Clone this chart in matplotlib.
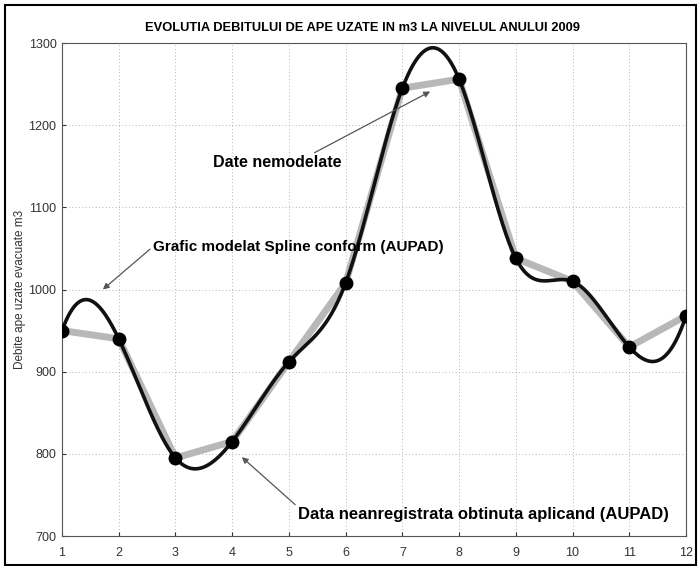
import numpy as np
import matplotlib
matplotlib.use("Agg")
import matplotlib.pyplot as plt
from matplotlib.patches import Rectangle

# Monthly wastewater flow, m3 (year 2009)
months = [1, 2, 3, 4, 5, 6, 7, 8, 9, 10, 11, 12]
flow = [950, 940, 795, 815, 912, 1008, 1245, 1256, 1038, 1010, 930, 968]
y_ticks = [700, 800, 900, 1000, 1100, 1200, 1300]

title = "EVOLUTIA DEBITULUI DE APE UZATE IN m3 LA NIVELUL ANULUI 2009"
ylabel = "Debite ape uzate evacuate m3"
note_raw = "Date nemodelate"
note_spline = "Grafic modelat Spline conform (AUPAD)"
note_missing = "Data neanregistrata obtinuta aplicand (AUPAD)"


def not_a_knot_spline(x, y, xs):
    """Cubic spline with not-a-knot end conditions, evaluated at xs."""
    x = np.asarray(x, float)
    y = np.asarray(y, float)
    n = len(x) - 1
    h = np.diff(x)
    A = np.zeros((4 * n, 4 * n))
    b = np.zeros(4 * n)
    r = 0
    for i in range(n):
        c = 4 * i
        A[r, c] = 1; b[r] = y[i]; r += 1
        A[r, c:c + 4] = [1, h[i], h[i] ** 2, h[i] ** 3]; b[r] = y[i + 1]; r += 1
    for i in range(n - 1):
        c = 4 * i
        A[r, c:c + 4] = [0, 1, 2 * h[i], 3 * h[i] ** 2]; A[r, c + 5] = -1; r += 1
        A[r, c:c + 4] = [0, 0, 2, 6 * h[i]]; A[r, c + 6] = -2; r += 1
    A[r, 3] = 1; A[r, 7] = -1; r += 1
    A[r, 4 * (n - 2) + 3] = 1; A[r, 4 * (n - 1) + 3] = -1; r += 1
    coef = np.linalg.solve(A, b).reshape(n, 4)
    idx = np.clip(np.searchsorted(x, xs, side="right") - 1, 0, n - 1)
    t = xs - x[idx]
    a0, a1, a2, a3 = coef[idx].T
    return a0 + a1 * t + a2 * t ** 2 + a3 * t ** 3


plt.rcParams["font.family"] = ["Liberation Sans", "DejaVu Sans"]

fig = plt.figure(figsize=(6.99, 5.66), dpi=100)
ax = fig.add_axes([0.0887, 0.053, 0.8927, 0.871])

xs = np.linspace(months[0], months[-1], 600)
ys = not_a_knot_spline(months, flow, xs)

ax.plot(months, flow, color="#b8b8b8", lw=5, solid_capstyle="round", zorder=2)
ax.plot(xs, ys, color="#111111", lw=2.6, zorder=3)
ax.plot(months, flow, "o", color="#000000", ms=9, zorder=4)

ax.set_xlim(1, 12)
ax.set_ylim(700, 1300)
ax.set_xticks(months)
ax.set_yticks(y_ticks)
ax.tick_params(direction="in", length=3, labelsize=9, colors="#333333")
ax.tick_params(axis="x", pad=8)
ax.tick_params(axis="y", pad=4)
ax.grid(True, color="#9a9a9a", lw=0.6, linestyle=(0, (1, 3)))
for s in ax.spines.values():
    s.set_color("#555555")
    s.set_linewidth(0.8)

arrow = dict(arrowstyle="-|>", color="#555555", lw=0.9, mutation_scale=9,
             shrinkA=0, shrinkB=0)
ax.annotate(note_raw, xy=(7.49, 1241), xytext=(3.66, 1154),
            fontsize=11.5, fontweight="bold", va="center", ha="left",
            arrowprops=dict(arrow, relpos=(0.75, 1.0)))
ax.annotate(note_spline, xy=(1.72, 1000), xytext=(2.6, 1052),
            fontsize=11, fontweight="bold", va="center", ha="left",
            arrowprops=dict(arrow, relpos=(0.0, 0.5)))
ax.annotate(note_missing, xy=(4.17, 796), xytext=(5.16, 726),
            fontsize=12, fontweight="bold", va="center", ha="left",
            arrowprops=dict(arrow, relpos=(0.0, 1.0)))

fig.text(0.518, 0.951, title, ha="center", va="center",
         fontsize=9.3, fontweight="bold")
fig.text(0.029, 0.488, ylabel, ha="center", va="center",
         rotation=90, fontsize=8.5, color="#333333")

fig.patches.append(Rectangle((0.007, 0.002), 0.989, 0.989, transform=fig.transFigure,
                             fill=False, edgecolor="black", lw=1.5))

fig.savefig("out.png", dpi=100)
